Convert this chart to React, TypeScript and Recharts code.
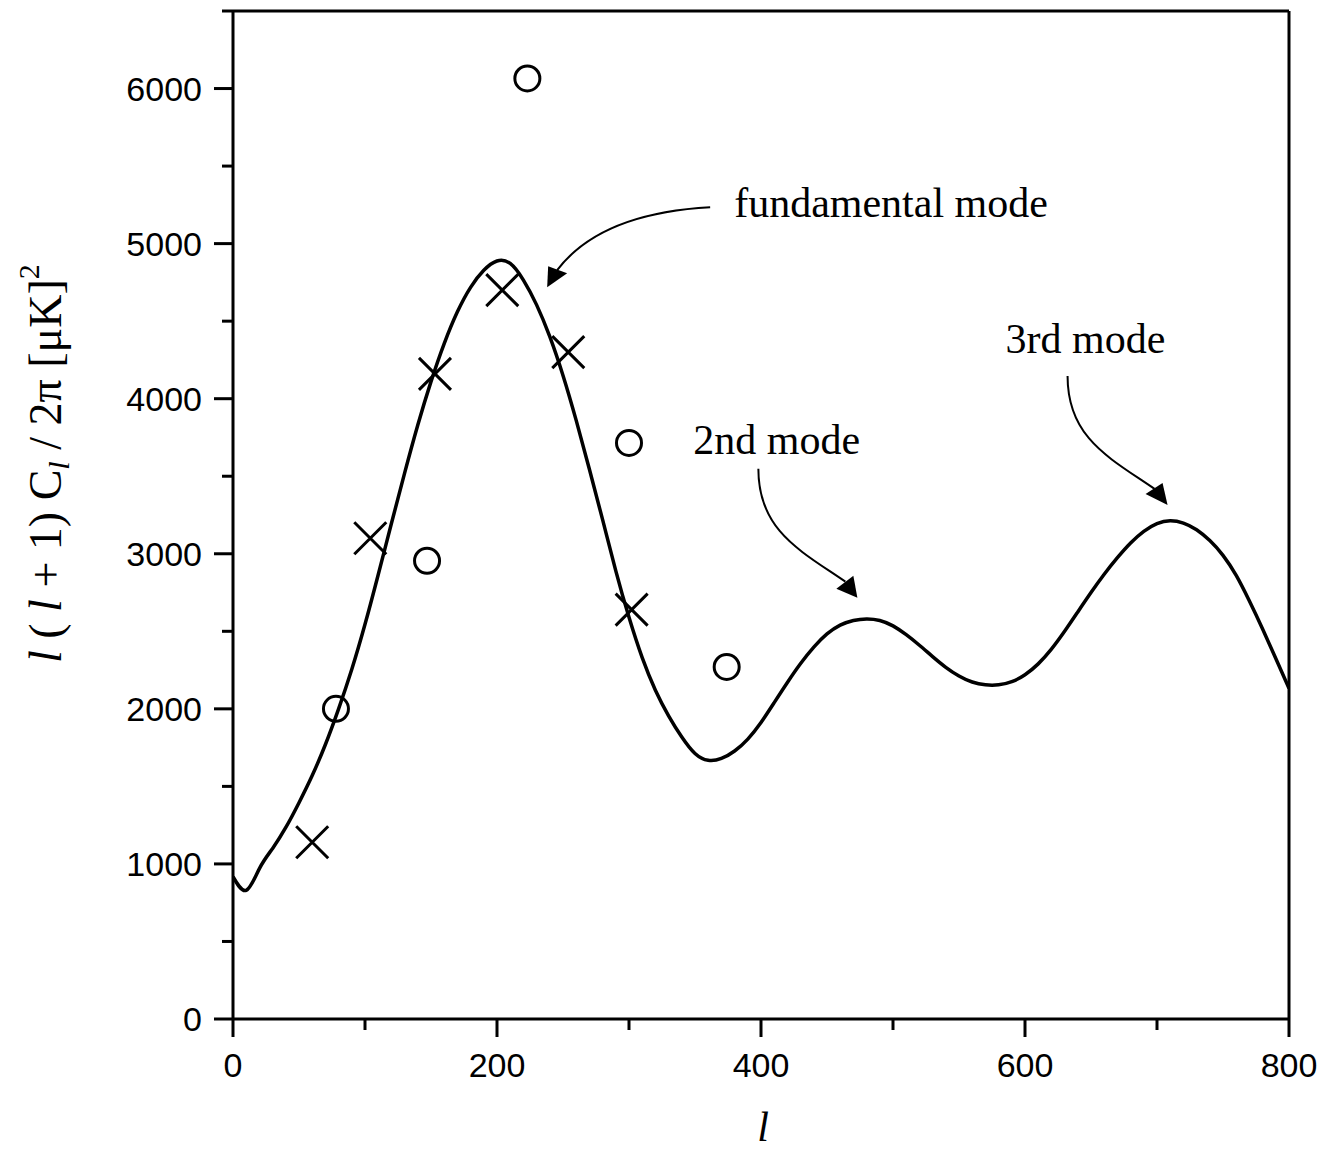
import {
  ComposedChart,
  Customized,
  Line,
  ReferenceDot,
  ReferenceLine,
  Scatter,
  XAxis,
  YAxis,
} from "recharts";

// theory curve, every 10 in l
const curveL = [
  0, 10, 20, 30, 40, 50, 60, 70, 80, 90, 100, 110, 120, 130, 140, 150, 160,
  170, 180, 190, 200, 210, 220, 230, 240, 250, 260, 270, 280, 290, 300, 310,
  320, 330, 340, 350, 360, 370, 380, 390, 400, 410, 420, 430, 440, 450, 460,
  470, 480, 490, 500, 510, 520, 530, 540, 550, 560, 570, 580, 590, 600, 610,
  620, 630, 640, 650, 660, 670, 680, 690, 700, 710, 720, 730, 740, 750, 760,
  770, 780, 790, 800,
];
const curveV = [
  918, 830, 970, 1100, 1235, 1395, 1570, 1770, 2000, 2255, 2545, 2865, 3195,
  3520, 3830, 4110, 4355, 4560, 4718, 4828, 4888, 4872, 4765, 4605, 4400, 4150,
  3860, 3545, 3220, 2890, 2590, 2330, 2120, 1955, 1818, 1712, 1668, 1680, 1728,
  1805, 1912, 2040, 2170, 2292, 2398, 2483, 2540, 2570, 2580, 2570, 2535, 2478,
  2410, 2337, 2268, 2212, 2173, 2155, 2155, 2175, 2220, 2290, 2385, 2500, 2625,
  2750, 2868, 2975, 3070, 3145, 3195, 3213, 3198, 3155, 3085, 2990, 2860, 2695,
  2515, 2325, 2132,
];

// measurements
const crossL = [60, 104, 153, 204, 254, 302];
const crossV = [1140, 3100, 4160, 4700, 4300, 2640];
const circleL = [78, 147, 223, 300, 374];
const circleV = [2000, 2955, 6065, 3715, 2270];

const xTicks = [0, 100, 200, 300, 400, 500, 600, 700, 800];
const yTicks = [
  0, 500, 1000, 1500, 2000, 2500, 3000, 3500, 4000, 4500, 5000, 5500, 6000,
  6500,
];

const modeLabels = ["fundamental mode", "2nd mode", "3rd mode"];
const modeTipL = [238, 473, 708];
const modeTipV = [4719, 2717, 3315];

const curve = curveL.map((l, i) => ({ l, v: curveV[i] }));
const crosses = crossL.map((l, i) => ({ l, v: crossV[i] }));
const circles = circleL.map((l, i) => ({ l, v: circleV[i] }));

const SANS = "Arial, 'Liberation Sans', sans-serif";
const SERIF = "'Times New Roman', 'Liberation Serif', serif";

function YTick({ x, y, payload }: any) {
  const v = payload.value;
  const major = v % 1000 === 0;
  return (
    <g>
      <line x1={x - (major ? 19 : 11)} x2={x} y1={y} y2={y} stroke="#000" strokeWidth={3} />
      {major && (
        <text x={x - 31} y={y + 12} textAnchor="end" fontFamily={SANS} fontSize={34} fill="#000">
          {v}
        </text>
      )}
    </g>
  );
}

function XTick({ x, y, payload }: any) {
  const v = payload.value;
  const major = v % 200 === 0;
  return (
    <g>
      <line x1={x} x2={x} y1={y} y2={y + (major ? 18 : 11)} stroke="#000" strokeWidth={3} />
      {major && (
        <text x={x} y={y + 58} textAnchor="middle" fontFamily={SANS} fontSize={34} fill="#000">
          {v}
        </text>
      )}
    </g>
  );
}

function CrossMark({ cx, cy }: any) {
  const s = 16;
  return (
    <path
      d={`M${cx - s},${cy - s}L${cx + s},${cy + s}M${cx - s},${cy + s}L${cx + s},${cy - s}`}
      stroke="#000"
      strokeWidth={3}
      fill="none"
    />
  );
}

function CircleMark({ cx, cy }: any) {
  return <circle cx={cx} cy={cy} r={12.5} stroke="#000" strokeWidth={3} fill="none" />;
}

// arrow geometry relative to the arrow tip, in px
const arrowShapes = [
  {
    text: [187, -70],
    path: "M163,-80 Q53,-74 10,-17",
    head: "M0,0 L1,-21 L20,-14 Z",
  },
  {
    text: [-164, -144],
    path: "M-99,-129 C-99,-67 -57,-47 -12,-16",
    head: "M0,0 L-21,-9 L-4,-22 Z",
  },
  {
    text: [-162, -152],
    path: "M-100,-129 C-100,-67 -58,-47 -13,-16",
    head: "M0,0 L-22,-11 L-5,-22 Z",
  },
];

function ModeArrow({ cx, cy, idx }: any) {
  const a = arrowShapes[idx];
  return (
    <g transform={`translate(${cx},${cy})`}>
      <path d={a.path} stroke="#000" strokeWidth={2} fill="none" />
      <path d={a.head} fill="#000" />
      <text x={a.text[0]} y={a.text[1]} fontFamily={SERIF} fontSize={42} fill="#000">
        {modeLabels[idx]}
      </text>
    </g>
  );
}

function Titles() {
  return (
    <g fill="#000" fontFamily={SERIF}>
      <text
        transform="translate(61,663) rotate(-90)"
        fontSize={46}
        style={{ whiteSpace: "pre" }}
      >
        <tspan fontStyle="italic">l</tspan>
        <tspan> ( </tspan>
        <tspan fontStyle="italic">l</tspan>
        <tspan> + 1) C</tspan>
        <tspan fontStyle="italic" fontSize={30} dy={8}>l</tspan>
        <tspan dy={-8}> / 2π [μK]</tspan>
        <tspan fontSize={30} dy={-22}>2</tspan>
      </text>
      <text x={763} y={1141} textAnchor="middle" fontSize={42} fontStyle="italic">
        l
      </text>
    </g>
  );
}

export default function App() {
  return (
    <div style={{ position: "absolute", left: 0, top: 0, background: "#fff" }}>
      <ComposedChart
        width={1329}
        height={1151}
        margin={{ top: 11, right: 40, left: 93, bottom: 32 }}
      >
        <XAxis
          type="number"
          dataKey="l"
          domain={[0, 800]}
          ticks={xTicks}
          height={100}
          tickSize={0}
          tickMargin={0}
          tickLine={false}
          axisLine={{ stroke: "#000", strokeWidth: 3 }}
          tick={<XTick />}
          allowDataOverflow
        />
        <YAxis
          type="number"
          dataKey="v"
          domain={[0, 6500]}
          ticks={yTicks}
          width={140}
          tickSize={0}
          tickMargin={0}
          tickLine={false}
          axisLine={{ stroke: "#000", strokeWidth: 3 }}
          tick={<YTick />}
          allowDataOverflow
        />
        <ReferenceLine y={6500} stroke="#000" strokeWidth={3} />
        <ReferenceLine x={800} stroke="#000" strokeWidth={3} />
        <Line
          data={curve}
          dataKey="v"
          type="natural"
          stroke="#000"
          strokeWidth={3.5}
          dot={false}
          activeDot={false}
          isAnimationActive={false}
        />
        <Scatter data={crosses} dataKey="v" shape={<CrossMark />} isAnimationActive={false} />
        <Scatter data={circles} dataKey="v" shape={<CircleMark />} isAnimationActive={false} />
        {modeLabels.map((_, i) => (
          <ReferenceDot
            key={i}
            x={modeTipL[i]}
            y={modeTipV[i]}
            r={0}
            shape={(p: any) => <ModeArrow cx={p.cx} cy={p.cy} idx={i} />}
          />
        ))}
        <Customized component={Titles} />
      </ComposedChart>
    </div>
  );
}
